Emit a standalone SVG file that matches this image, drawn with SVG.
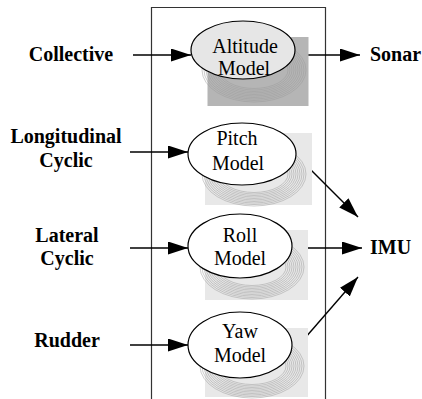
<svg xmlns="http://www.w3.org/2000/svg" width="422" height="399" viewBox="0 0 422 399">
  <style>
    .lbl { font-family: 'Liberation Serif', 'DejaVu Serif', serif; font-size: 20px; font-weight: bold; fill: #000; }
    .txt { font-family: 'Liberation Serif', 'DejaVu Serif', serif; font-size: 20px; fill: #000; text-anchor: middle; }
    .node { stroke: #000; stroke-width: 1.2; }
    .ring { fill: none; stroke: #9a9a9a; stroke-width: 0.5; }
    .edge { stroke: #000; stroke-width: 1.4; fill: none; marker-end: url(#arrow); }
  </style>
  <defs>
    <marker id="arrow" markerUnits="userSpaceOnUse" markerWidth="20" markerHeight="13" refX="20" refY="6.5" orient="auto">
      <path d="M0,0 L20,6.5 L0,13 z" fill="#000"/>
    </marker>
    <!-- concentric rings used as the soft drop shadow under each model -->
    <g id="rings">
      <ellipse class="ring" cx="0" cy="0" rx="52" ry="32"/>
      <ellipse class="ring" cx="0" cy="0" rx="50" ry="30.5"/>
      <ellipse class="ring" cx="0" cy="0" rx="48" ry="29"/>
      <ellipse class="ring" cx="0" cy="0" rx="46" ry="27.5"/>
      <ellipse class="ring" cx="0" cy="0" rx="44" ry="26"/>
      <ellipse class="ring" cx="0" cy="0" rx="42" ry="24.5"/>
      <ellipse class="ring" cx="0" cy="0" rx="40" ry="23"/>
      <ellipse class="ring" cx="0" cy="0" rx="38" ry="21.5"/>
      <ellipse class="ring" cx="0" cy="0" rx="36" ry="20"/>
      <ellipse class="ring" cx="0" cy="0" rx="34" ry="18.5"/>
    </g>
  </defs>

  <rect width="422" height="399" fill="#fff"/>

  <!-- system boundary -->
  <path d="M151.5,405 V7.5 H325.5 V405" fill="none" stroke="#333" stroke-width="1.2"/>

  <!-- connectors -->
  <g id="connectors">
    <line class="edge" x1="133" y1="55" x2="191" y2="55"/>
    <line class="edge" x1="130" y1="152" x2="188" y2="152"/>
    <line class="edge" x1="130" y1="248" x2="188" y2="248"/>
    <line class="edge" x1="130" y1="345" x2="188" y2="345"/>
    <line class="edge" x1="295" y1="55" x2="360" y2="55"/>
    <line class="edge" x1="293" y1="152" x2="358" y2="217"/>
    <line class="edge" x1="292" y1="248" x2="362" y2="248"/>
    <line class="edge" x1="292" y1="353" x2="358" y2="277"/>
  </g>

  <!-- model nodes -->
  <g id="altitude">
    <rect x="207.5" y="37" width="101" height="69" fill="#b5b5b5"/>
    <use href="#rings" transform="translate(254,70)"/>
    <ellipse class="node" cx="243" cy="50" rx="52" ry="29" fill="#e6e6e6"/>
    <text class="txt" x="245" y="53">Altitude</text>
    <text class="txt" x="244" y="75">Model</text>
  </g>

  <g id="pitch">
    <rect x="205" y="133" width="107" height="72" fill="#e8e8e8"/>
    <use href="#rings" transform="translate(254,174)"/>
    <ellipse class="node" cx="242" cy="154" rx="54" ry="31" fill="#fff"/>
    <text class="txt" x="237" y="145">Pitch</text>
    <text class="txt" x="238" y="170">Model</text>
  </g>

  <g id="roll">
    <rect x="205" y="230" width="103" height="70" fill="#e8e8e8"/>
    <use href="#rings" transform="translate(252,267)"/>
    <ellipse class="node" cx="240" cy="246" rx="52" ry="32" fill="#fff"/>
    <text class="txt" x="240" y="242">Roll</text>
    <text class="txt" x="240" y="265">Model</text>
  </g>

  <g id="yaw">
    <rect x="205" y="328" width="103" height="69" fill="#e8e8e8"/>
    <use href="#rings" transform="translate(252,366)"/>
    <ellipse class="node" cx="240" cy="345" rx="52" ry="33" fill="#fff"/>
    <text class="txt" x="240" y="338">Yaw</text>
    <text class="txt" x="240" y="362">Model</text>
  </g>

  <!-- inputs -->
  <g id="in-collective"><text class="lbl" x="71" y="61" text-anchor="middle">Collective</text></g>
  <g id="in-longitudinal">
    <text class="lbl" x="66" y="143" text-anchor="middle">Longitudinal</text>
    <text class="lbl" x="66" y="167" text-anchor="middle">Cyclic</text>
  </g>
  <g id="in-lateral">
    <text class="lbl" x="67" y="242" text-anchor="middle">Lateral</text>
    <text class="lbl" x="67" y="265" text-anchor="middle">Cyclic</text>
  </g>
  <g id="in-rudder"><text class="lbl" x="67" y="347" text-anchor="middle">Rudder</text></g>

  <!-- outputs -->
  <g id="out-sonar"><text class="lbl" x="370" y="61">Sonar</text></g>
  <g id="out-imu"><text class="lbl" x="370" y="254">IMU</text></g>
</svg>
